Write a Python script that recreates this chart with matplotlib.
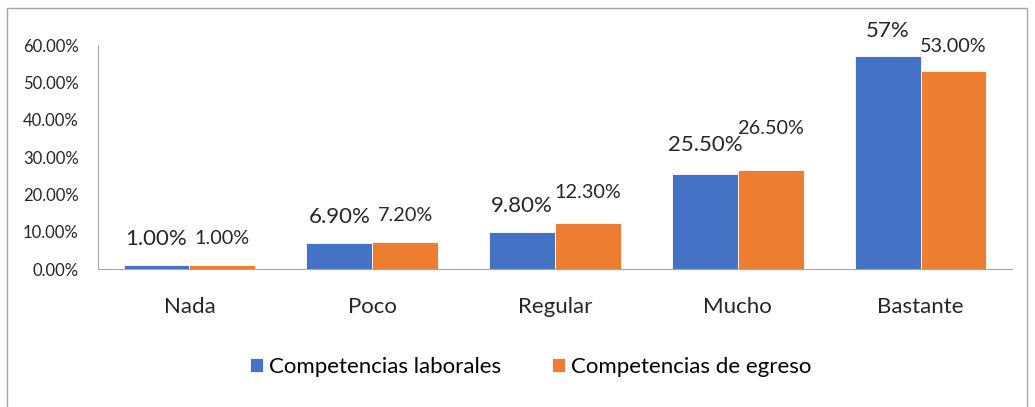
import matplotlib.pyplot as plt
import matplotlib.patches as patches
import numpy as np
from matplotlib.ticker import FuncFormatter

categories = ["Nada", "Poco", "Regular", "Mucho", "Bastante"]
laborales = [1.0, 6.9, 9.8, 25.5, 57.0]
egreso = [1.0, 7.2, 12.3, 26.5, 53.0]
labels_laborales = ["1.00%", "6.90%", "9.80%", "25.50%", "57%"]
labels_egreso = ["1.00%", "7.20%", "12.30%", "26.50%", "53.00%"]
series_names = ["Competencias laborales", "Competencias de egreso"]

# label offsets above the bar tops (points), as they were placed in the source
off_lab = [19, 19, 19, 21, 18]
off_egr = [19, 19, 22, 30, 18]

BLUE = "#4472C4"
ORANGE = "#ED7D31"
TXT = "#262626"

plt.rcParams['font.family'] = ['Lato', 'DejaVu Sans']

fig = plt.figure(figsize=(10.35, 4.07), dpi=100)
ax = fig.add_axes([98 / 1035, 1 - 269 / 407, (1012 - 98) / 1035, (269 - 45) / 407])

x = np.arange(len(categories))
w = 0.36
b1 = ax.bar(x - w / 2, laborales, w, color=BLUE, edgecolor="white", linewidth=0.6,
            label=series_names[0])
b2 = ax.bar(x + w / 2, egreso, w, color=ORANGE, edgecolor="white", linewidth=0.6,
            label=series_names[1])

for i in range(len(categories)):
    ax.annotate(labels_laborales[i], (x[i] - w / 2, laborales[i]), xytext=(0, off_lab[i]),
                textcoords="offset points", ha="center", va="center", fontsize=16,
                color=TXT, annotation_clip=False)
    ax.annotate(labels_egreso[i], (x[i] + w / 2, egreso[i]), xytext=(0, off_egr[i]),
                textcoords="offset points", ha="center", va="center", fontsize=14.3,
                color=TXT, annotation_clip=False)

ax.set_xlim(-0.5, len(categories) - 0.5)
ax.set_ylim(0, 60)
ax.set_yticks(np.arange(0, 61, 10))
ax.yaxis.set_major_formatter(FuncFormatter(lambda v, p: f"{v:.2f}%"))
ax.set_xticks(x)
ax.set_xticklabels(categories, fontsize=16, color=TXT)
ax.tick_params(axis="y", length=0, pad=14, labelsize=12, labelcolor=TXT)
ax.tick_params(axis="x", length=0, pad=20)

for s in ["top", "right"]:
    ax.spines[s].set_visible(False)
ax.spines["left"].set_color("#A6A6A6")
ax.spines["bottom"].set_color("#A6A6A6")

fig.legend(handles=[b1, b2], loc="center", bbox_to_anchor=(531 / 1035, 1 - 367 / 407),
           ncol=2, frameon=False, fontsize=16, handlelength=0.55, handleheight=0.55,
           handletextpad=0.3, columnspacing=2.3)

border = patches.Rectangle((7 / 1035, -0.05), (1027 - 7) / 1035, 1 - 8 / 407 + 0.05,
                           transform=fig.transFigure, fill=False, edgecolor="#A6A6A6",
                           linewidth=1)
fig.patches.append(border)

fig.savefig("out.png", dpi=100)
